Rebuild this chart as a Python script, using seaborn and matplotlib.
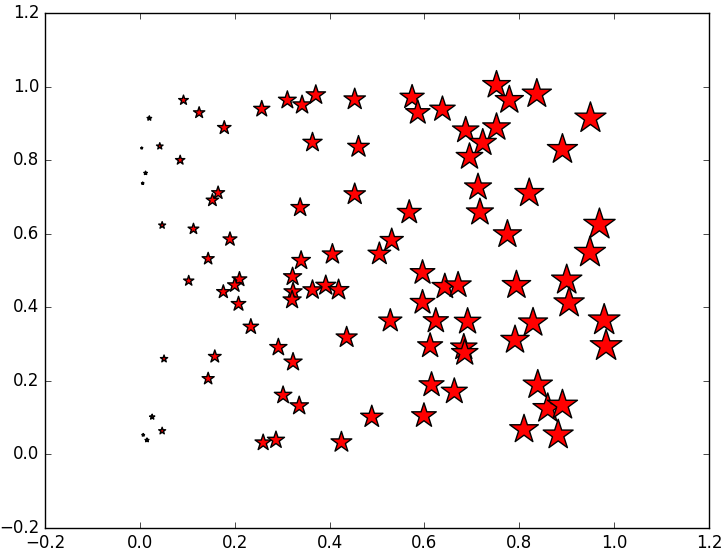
import numpy as np
import pandas as pd
import seaborn as sns
import matplotlib
matplotlib.use("Agg")
import matplotlib.pyplot as plt

# point positions
x = [0.004, 0.020, 0.012, 0.006, 0.042, 0.092, 0.125, 0.178, 0.085, 0.257,
     0.311, 0.342, 0.371, 0.453, 0.364, 0.461, 0.165, 0.153, 0.453, 0.338,
     0.047, 0.113, 0.190, 0.144, 0.340, 0.406, 0.505, 0.531, 0.752, 0.779,
     0.837, 0.950, 0.574, 0.586, 0.638, 0.687, 0.752, 0.723, 0.695, 0.891,
     0.713, 0.821, 0.717, 0.568, 0.775, 0.969, 0.949, 0.103, 0.210, 0.200,
     0.176, 0.208, 0.322, 0.323, 0.321, 0.364, 0.392, 0.419, 0.234, 0.528,
     0.436, 0.292, 0.323, 0.051, 0.158, 0.144, 0.302, 0.336, 0.489, 0.026,
     0.047, 0.007, 0.015, 0.260, 0.287, 0.425, 0.596, 0.643, 0.671, 0.794,
     0.900, 0.905, 0.596, 0.624, 0.691, 0.829, 0.979, 0.612, 0.683, 0.685,
     0.791, 0.983, 0.615, 0.663, 0.839, 0.860, 0.891, 0.599, 0.810, 0.882]
y = [0.833, 0.914, 0.765, 0.737, 0.838, 0.963, 0.929, 0.888, 0.800, 0.939,
     0.963, 0.950, 0.977, 0.965, 0.848, 0.836, 0.711, 0.691, 0.707, 0.671,
     0.623, 0.613, 0.585, 0.532, 0.527, 0.544, 0.545, 0.582, 1.004, 0.963,
     0.980, 0.914, 0.971, 0.929, 0.938, 0.881, 0.889, 0.847, 0.809, 0.829,
     0.726, 0.710, 0.658, 0.658, 0.598, 0.625, 0.549, 0.472, 0.476, 0.460,
     0.442, 0.409, 0.483, 0.442, 0.420, 0.447, 0.459, 0.447, 0.347, 0.363,
     0.318, 0.291, 0.251, 0.260, 0.266, 0.206, 0.161, 0.132, 0.102, 0.102,
     0.064, 0.053, 0.039, 0.032, 0.039, 0.033, 0.494, 0.456, 0.460, 0.460,
     0.474, 0.412, 0.413, 0.363, 0.361, 0.358, 0.365, 0.295, 0.291, 0.276,
     0.311, 0.295, 0.189, 0.171, 0.189, 0.125, 0.134, 0.105, 0.068, 0.053]

df = pd.DataFrame({"x": x, "y": y})

plt.style.use("classic")
fig = plt.figure(figsize=(7.24, 5.54), dpi=100, facecolor="white")
ax = fig.add_axes([45 / 724, 26 / 554, 664 / 724, 515 / 554])

# marker area grows with x
sns.scatterplot(data=df, x="x", y="y", size="x", sizes=(0, 580), size_norm=(0, 1),
                marker="*", color="red", edgecolor="black", linewidth=1,
                legend=False, ax=ax)

ax.set_xlim(-0.2, 1.2)
ax.set_ylim(-0.2, 1.2)
ax.set_xticks(np.arange(-0.2, 1.21, 0.2))
ax.set_yticks(np.arange(-0.2, 1.21, 0.2))
ax.set_xlabel("")
ax.set_ylabel("")

fig.savefig("out.png", dpi=100, facecolor="white")
